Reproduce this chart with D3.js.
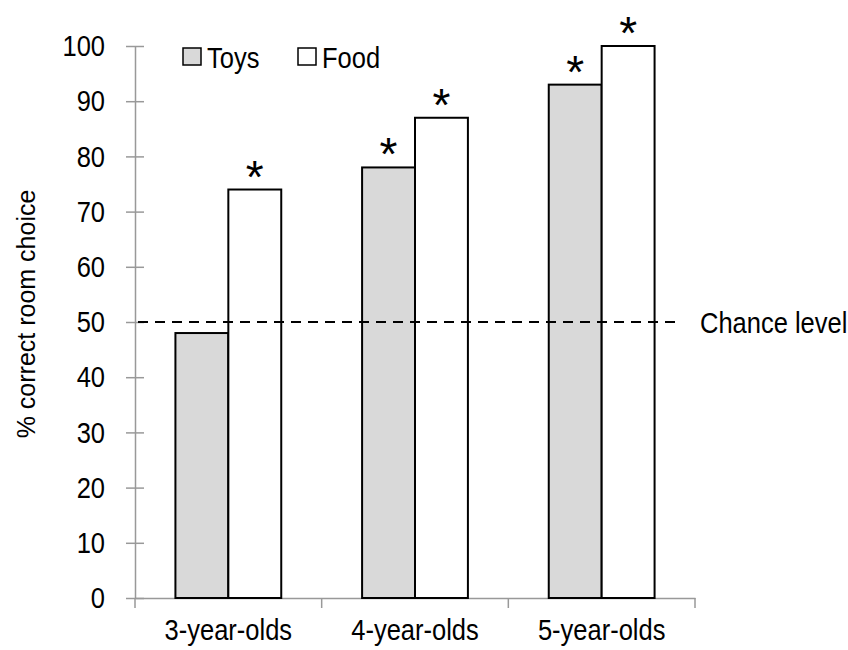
<!DOCTYPE html>
<html>
<head>
<meta charset="utf-8">
<script src="https://cdn.jsdelivr.net/npm/d3@7"></script>
<style>
  body { margin: 0; background: #fff; }
  text { font-family: "Liberation Sans", Arial, sans-serif; fill: #000; }
</style>
</head>
<body>
<div id="chart"></div>
<script>
// data
const groups = ["3-year-olds", "4-year-olds", "5-year-olds"];
const seriesNames = ["Toys", "Food"];
const toys = [48, 78, 93];
const food = [74, 87, 100];
const toysSig = [false, true, true];
const foodSig = [true, true, true];
const yTicks = [0, 10, 20, 30, 40, 50, 60, 70, 80, 90, 100];
const chanceLevel = 50;

const width = 848, height = 650;
const margin = {top: 46, right: 153, bottom: 52, left: 135};
const innerW = width - margin.left - margin.right;
const innerH = height - margin.top - margin.bottom;
const squeeze = 0.85; // the original lettering is a bit narrow
const fontSize = 30;

const svg = d3.select("#chart").append("svg")
    .attr("width", width)
    .attr("height", height);

const g = svg.append("g")
    .attr("transform", "translate(" + margin.left + "," + margin.top + ")");

const x0 = d3.scaleBand().domain(groups).range([0, innerW]).paddingInner(0).paddingOuter(0);
const x1 = d3.scaleBand().domain(seriesNames).range([0, x0.bandwidth()]).paddingInner(0).paddingOuter(0.764);
const y = d3.scaleLinear().domain([0, 100]).range([innerH, 0]);

const fills = {Toys: "#d9d9d9", Food: "#ffffff"};

// table built from the arrays
const rows = [];
groups.forEach((grp, i) => {
    rows.push({group: grp, series: "Toys", value: toys[i], sig: toysSig[i]});
    rows.push({group: grp, series: "Food", value: food[i], sig: foodSig[i]});
});

// y axis: ticks cross the line
const yAxis = g.append("g")
    .call(d3.axisLeft(y).tickValues(yTicks).tickSizeInner(9).tickSizeOuter(0).tickPadding(12));
yAxis.select(".domain").attr("stroke", "#999").attr("stroke-width", 1.5);
yAxis.selectAll(".tick line").attr("stroke", "#999").attr("stroke-width", 1.5).attr("x2", 9).attr("x1", -9);
yAxis.selectAll(".tick text")
    .style("font-size", fontSize + "px")
    .attr("x", -30 / squeeze)
    .attr("transform", "scale(" + squeeze + ",1)");

// x axis
const xAxis = g.append("g")
    .attr("transform", "translate(0," + innerH + ")")
    .call(d3.axisBottom(x0).tickSize(0).tickPadding(21));
xAxis.select(".domain").attr("stroke", "#999").attr("stroke-width", 1.5);
xAxis.selectAll(".tick text")
    .style("font-size", fontSize + "px")
    .attr("transform", "scale(" + squeeze + ",1)");
const xEdges = groups.map(d => x0(d)).concat([innerW]);
xAxis.selectAll(".edge").data(xEdges).enter().append("line")
    .attr("x1", d => d).attr("x2", d => d)
    .attr("y1", 0).attr("y2", 10)
    .attr("stroke", "#999").attr("stroke-width", 1.5);

// bars
g.selectAll("rect.bar").data(rows).enter().append("rect")
    .attr("class", "bar")
    .attr("x", d => x0(d.group) + x1(d.series))
    .attr("y", d => y(d.value))
    .attr("width", x1.bandwidth())
    .attr("height", d => y(0) - y(d.value))
    .attr("fill", d => fills[d.series])
    .attr("stroke", "#000")
    .attr("stroke-width", 2);

// asterisks
g.selectAll("text.star").data(rows.filter(d => d.sig)).enter().append("text")
    .attr("class", "star")
    .attr("x", d => x0(d.group) + x1(d.series) + x1.bandwidth() / 2)
    .attr("y", d => y(d.value) + 3)
    .attr("text-anchor", "middle")
    .style("font-size", "46px")
    .text("*");

// chance line
g.append("line")
    .attr("x1", 0).attr("x2", innerW - 16)
    .attr("y1", y(chanceLevel)).attr("y2", y(chanceLevel))
    .attr("stroke", "#000").attr("stroke-width", 2)
    .attr("stroke-dasharray", "10,7")
    .attr("stroke-dashoffset", -3);

g.append("text")
    .attr("transform", "translate(" + (innerW + 5) + "," + y(chanceLevel) + ") scale(" + squeeze + ",1)")
    .attr("dy", "0.35em")
    .style("font-size", fontSize + "px")
    .text("Chance level");

// y title
svg.append("text")
    .attr("transform", "translate(35," + (margin.top + innerH / 2 - 8) + ") rotate(-90)")
    .attr("text-anchor", "middle")
    .style("font-size", "25px")
    .text("% correct room choice");

// legend
const legend = g.append("g").attr("transform", "translate(48,2)");
const legendItems = legend.selectAll("g").data(seriesNames).enter().append("g")
    .attr("transform", (d, i) => "translate(" + (i * 115) + ",0)");
legendItems.append("rect")
    .attr("x", 0).attr("y", 0)
    .attr("width", 18).attr("height", 17)
    .attr("fill", d => fills[d])
    .attr("stroke", "#000").attr("stroke-width", 1.5);
legendItems.append("text")
    .attr("transform", "translate(24,9) scale(" + squeeze + ",1)")
    .attr("dy", "0.35em")
    .style("font-size", fontSize + "px")
    .text(d => d);
</script>
</body>
</html>
